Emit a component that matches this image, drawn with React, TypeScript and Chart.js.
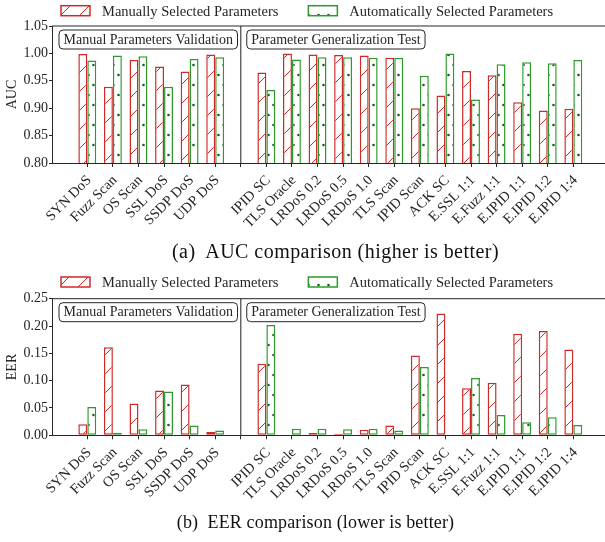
import React, { useEffect, useRef } from 'react';
import { Chart, registerables } from 'chart.js';

Chart.register(...registerables);

// ---------- data ----------
const categories: string[] = [
  'SYN DoS', 'Fuzz Scan', 'OS Scan', 'SSL DoS', 'SSDP DoS', 'UDP DoS', '',
  'IPID SC', 'TLS Oracle', 'LRDoS 0.2', 'LRDoS 0.5', 'LRDoS 1.0', 'TLS Scan',
  'IPID Scan', 'ACK SC', 'E.SSL 1:1', 'E.Fuzz 1:1', 'E.IPID 1:1', 'E.IPID 1:2', 'E.IPID 1:4',
];

const aucManual: (number | null)[] = [
  0.999, 0.939, 0.988, 0.976, 0.967, 0.998, null,
  0.965, 1.0, 0.998, 0.997, 0.996, 0.992, 0.9, 0.923, 0.968, 0.96, 0.911, 0.896, 0.899,
];
const aucAuto: (number | null)[] = [
  0.987, 0.996, 0.995, 0.939, 0.99, 0.993, null,
  0.933, 0.989, 0.993, 0.993, 0.992, 0.992, 0.959, 1.0, 0.916, 0.98, 0.984, 0.982, 0.988,
];
const eerManual: (number | null)[] = [
  0.02, 0.161, 0.058, 0.082, 0.093, 0.006, 0.001,
  0.131, 0.001, 0.004, 0.003, 0.01, 0.018, 0.146, 0.223, 0.086, 0.096, 0.186, 0.191, 0.157,
];
const eerAuto: (number | null)[] = [
  0.052, 0.004, 0.011, 0.08, 0.018, 0.009, null,
  0.202, 0.012, 0.012, 0.011, 0.012, 0.009, 0.125, 0.001, 0.105, 0.037, 0.024, 0.033, 0.019,
];

const seriesLabels = ['Manually Selected Parameters', 'Automatically Selected Parameters'];
const groupLabels = ['Manual Parameters Validation', 'Parameter Generalization Test'];
const dividerIndex = 6;
const aucTicks = { min: 0.8, max: 1.05, step: 0.05 };
const eerTicks = { min: 0, max: 0.25, step: 0.05 };

// ---------- style ----------
const RED = '#cf2a2a';
const GREEN = '#2e9a2e';
const DOT = '#17661a';
const TEXT = '#262626';
const FONT = '"Liberation Serif", "DejaVu Serif", serif';
const CANVAS_W = 640;

function makeHatch(color: string): CanvasPattern | string {
  const t = document.createElement('canvas');
  t.width = 19; t.height = 19;
  const g = t.getContext('2d');
  if (!g) return '#fff';
  g.fillStyle = '#ffffff';
  g.fillRect(0, 0, 19, 19);
  g.strokeStyle = color;
  g.lineWidth = 1;
  for (const o of [-19, 0, 19]) {
    g.beginPath();
    g.moveTo(o - 1, 20);
    g.lineTo(o + 20, -1);
    g.stroke();
  }
  const p = g.createPattern(t, 'repeat');
  return p || '#fff';
}

function makeDots(color: string): CanvasPattern | string {
  const t = document.createElement('canvas');
  t.width = 10; t.height = 20;
  const g = t.getContext('2d');
  if (!g) return '#fff';
  g.fillStyle = '#ffffff';
  g.fillRect(0, 0, 10, 20);
  g.fillStyle = color;
  for (const [x, y] of [[3.5, 5], [8.5, 15]]) {
    g.beginPath();
    g.arc(x, y, 1.35, 0, Math.PI * 2);
    g.fill();
  }
  const p = g.createPattern(t, 'repeat');
  return p || '#fff';
}

const refLegend = {
  id: 'refLegend',
  afterDraw(chart: any, _args: any, opts: any) {
    const ctx = chart.ctx as CanvasRenderingContext2D;
    const y = opts.y as number;
    let x = chart.chartArea.left + 9;
    ctx.save();
    ctx.font = `14.5px ${FONT}`;
    ctx.textBaseline = 'middle';
    chart.data.datasets.forEach((ds: any) => {
      ctx.fillStyle = ds.backgroundColor;
      ctx.fillRect(x, y, 29, 10);
      ctx.strokeStyle = ds.borderColor;
      ctx.lineWidth = 1.5;
      ctx.strokeRect(x, y, 29, 10);
      ctx.fillStyle = TEXT;
      ctx.fillText(ds.label, x + 29 + 12, y + 6);
      x += 29 + 12 + ctx.measureText(ds.label).width + 30;
    });
    ctx.restore();
  },
};

const frameAndGroups = {
  id: 'frameAndGroups',
  afterDatasetsDraw(chart: any) {
    const ctx = chart.ctx as CanvasRenderingContext2D;
    const a = chart.chartArea;
    const xs = chart.scales.x;
    const dx = xs.getPixelForValue(dividerIndex);
    ctx.save();
    // divider
    ctx.strokeStyle = '#444';
    ctx.lineWidth = 1.2;
    ctx.beginPath();
    ctx.moveTo(dx, a.top);
    ctx.lineTo(dx, a.bottom);
    ctx.stroke();
    // top spine
    ctx.strokeStyle = TEXT;
    ctx.lineWidth = 1;
    ctx.beginPath();
    ctx.moveTo(a.left, a.top);
    ctx.lineTo(a.right, a.top);
    ctx.stroke();
    // group boxes
    ctx.font = `14px ${FONT}`;
    ctx.textBaseline = 'middle';
    const lefts = [a.left + 7, dx + 6];
    groupLabels.forEach((txt, i) => {
      const w = ctx.measureText(txt).width + 9;
      const bx = lefts[i];
      const by = a.top + 4;
      ctx.beginPath();
      (ctx as any).roundRect(bx, by, w, 19, 4);
      ctx.fillStyle = '#fff';
      ctx.fill();
      ctx.strokeStyle = TEXT;
      ctx.lineWidth = 1;
      ctx.stroke();
      ctx.fillStyle = TEXT;
      ctx.fillText(txt, bx + 4.5, by + 10);
    });
    ctx.restore();
  },
};

function buildConfig(kind: 'auc' | 'eer'): any {
  const manual = kind === 'auc' ? aucManual : eerManual;
  const auto = kind === 'auc' ? aucAuto : eerAuto;
  const t = kind === 'auc' ? aucTicks : eerTicks;
  const canvasH = kind === 'auc' ? 270 : 272;
  const top = kind === 'auc' ? 26 : 28.7;
  const bottom = kind === 'auc' ? 163 : 165.3;
  const toPts = (arr: (number | null)[]) =>
    arr.map((v, i) => (v === null ? null : { x: i, y: v })).filter((p) => p !== null);
  const ppu = 25.58;
  const xmin = -1.38;
  const xmax = xmin + (CANVAS_W - 52) / ppu;
  return {
    type: 'bar',
    data: {
      datasets: [
        {
          label: seriesLabels[0],
          data: toPts(manual),
          backgroundColor: makeHatch(RED),
          borderColor: RED,
          borderWidth: 1.5,
          borderSkipped: false,
        },
        {
          label: seriesLabels[1],
          data: toPts(auto),
          backgroundColor: makeDots(DOT),
          borderColor: GREEN,
          borderWidth: 1.5,
          borderSkipped: false,
        },
      ],
    },
    options: {
      animation: false,
      responsive: false,
      devicePixelRatio: 1,
      layout: { padding: { top, left: 0, right: 0, bottom: 0 } },
      datasets: { bar: { categoryPercentage: 0.7, barPercentage: 1.0 } },
      plugins: {
        legend: { display: false },
        tooltip: { enabled: false },
        refLegend: { y: kind === 'auc' ? 5.7 : 7 },
      },
      scales: {
        x: {
          type: 'linear',
          offset: false,
          min: xmin,
          max: xmax,
          afterBuildTicks: (s: any) => {
            s.ticks = categories.map((_, i) => ({ value: i }));
          },
          afterFit: (s: any) => {
            s.height = canvasH - bottom;
          },
          ticks: {
            autoSkip: false,
            minRotation: 45,
            maxRotation: 45,
            padding: 5,
            labelOffset: 2,
            color: TEXT,
            font: { size: 14.3, family: FONT },
            callback: (v: number) => categories[Math.round(v)] ?? '',
          },
          grid: { offset: false, drawOnChartArea: false, drawTicks: true, tickLength: 4, color: TEXT },
          border: { color: TEXT, width: 1 },
        },
        y: {
          min: t.min,
          max: t.max,
          afterFit: (s: any) => {
            s.width = 52;
          },
          ticks: {
            stepSize: t.step,
            padding: 1,
            color: TEXT,
            font: { size: 14, family: FONT },
            callback: (v: number) => Number(v).toFixed(2),
          },
          grid: { drawOnChartArea: false, drawTicks: true, tickLength: 3, color: TEXT },
          border: { color: TEXT, width: 1 },
          title: {
            display: true,
            text: kind === 'auc' ? 'AUC' : 'EER',
            color: TEXT,
            font: { size: 14, family: FONT },
          },
        },
      },
    },
    plugins: [refLegend, frameAndGroups],
  };
}

function Panel({ kind, top, height }: { kind: 'auc' | 'eer'; top: number; height: number }) {
  const ref = useRef<HTMLCanvasElement | null>(null);
  useEffect(() => {
    if (!ref.current) return;
    const chart = new Chart(ref.current, buildConfig(kind));
    return () => chart.destroy();
  }, [kind]);
  return (
    <canvas
      ref={ref}
      width={CANVAS_W}
      height={height}
      style={{ position: 'absolute', left: 0, top, width: CANVAS_W, height }}
    />
  );
}

const captionStyle: React.CSSProperties = {
  position: 'absolute',
  fontFamily: FONT,
  lineHeight: '20px',
  color: '#111',
  textAlign: 'center',
  whiteSpace: 'pre',
};

export default function App() {
  return (
    <div
      style={{
        position: 'absolute',
        left: 0,
        top: 0,
        width: 605,
        height: 542,
        overflow: 'hidden',
        background: '#fff',
      }}
    >
      <Panel kind="auc" top={0} height={270} />
      <Panel kind="eer" top={270} height={272} />
      <div style={{ ...captionStyle, fontSize: 20, letterSpacing: '0.45px', left: 0, width: 671, top: 241 }}>
        {'(a)  AUC comparison (higher is better)'}
      </div>
      <div style={{ ...captionStyle, fontSize: 18, letterSpacing: '0.15px', left: 0, width: 631, top: 512 }}>
        {'(b)  EER comparison (lower is better)'}
      </div>
    </div>
  );
}
